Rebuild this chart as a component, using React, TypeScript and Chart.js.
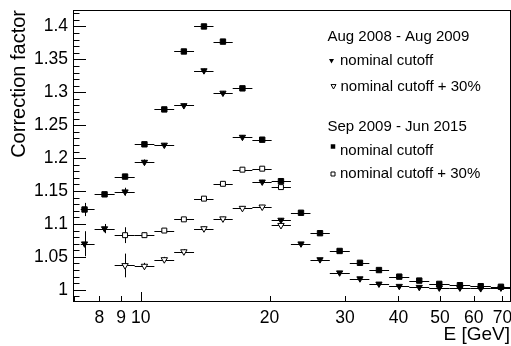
import React, { useEffect, useRef } from 'react';
import { Chart, registerables } from 'chart.js';

Chart.register(...registerables);

const FONT = '"Liberation Sans", Arial, Helvetica, sans-serif';

// Energy bin centres and edges [GeV]
const energy = [7.39, 8.23, 9.19, 10.2, 11.35, 12.61, 14.05, 15.56, 17.28, 19.22, 21.26, 23.68, 26.23, 29.15, 32.52, 36.02, 40.18, 44.74, 49.83, 55.68, 62.27, 69.43];
const binLow = [7.24, 7.8, 8.69, 9.68, 10.76, 11.97, 13.32, 14.79, 16.4, 18.23, 20.22, 22.43, 24.92, 27.65, 30.79, 34.21, 38.04, 42.4, 47.21, 52.67, 58.88, 65.75];
const binHigh = [7.8, 8.69, 9.68, 10.76, 11.97, 13.32, 14.79, 16.4, 18.23, 20.22, 22.43, 24.92, 27.65, 30.79, 34.21, 38.04, 42.4, 47.21, 52.67, 58.88, 65.75, 73.3];

// Aug 2008 - Aug 2009
const aug08Nominal = [1.070, 1.093, 1.149, 1.194, 1.220, 1.280, 1.333, 1.299, 1.232, 1.164, 1.106, 1.070, 1.046, 1.026, 1.017, 1.009, 1.0055, 1.004, 1.003, 1.003, 1.002, 1.003];
const aug08NominalErr = [0.019, 0.007, 0.006, 0.004, 0.003, 0.003, 0.003, 0.003, 0.003, 0.003, 0.003, 0.002, 0.002, 0.002, 0.002, 0.002, 0.002, 0.002, 0.002, 0.002, 0.002, 0.002];
const aug08Plus30 = [null, null, 1.037, 1.036, 1.046, 1.058, 1.093, 1.108, 1.124, 1.126, 1.098, null, null, null, null, null, null, null, null, null, null, null];
const aug08Plus30Err = [null, null, 0.018, 0.005, 0.004, 0.004, 0.003, 0.003, 0.003, 0.003, 0.003, null, null, null, null, null, null, null, null, null, null, null];

// Sep 2009 - Jun 2015
const sep09Nominal = [1.122, 1.145, 1.172, 1.221, 1.274, 1.362, 1.400, 1.377, 1.306, 1.228, 1.165, 1.117, 1.086, 1.059, 1.041, 1.030, 1.020, 1.014, 1.009, 1.007, 1.0055, 1.0046];
const sep09NominalErr = [0.010, 0.004, 0.004, 0.003, 0.003, 0.003, 0.003, 0.003, 0.003, 0.003, 0.002, 0.002, 0.002, 0.002, 0.002, 0.002, 0.002, 0.002, 0.002, 0.002, 0.002, 0.002];
const sep09Plus30 = [null, null, 1.083, 1.083, 1.090, 1.107, 1.1385, 1.161, 1.1825, 1.184, 1.156, null, null, null, null, null, null, null, null, null, null, null];
const sep09Plus30Err = [null, null, 0.012, 0.004, 0.003, 0.003, 0.003, 0.003, 0.003, 0.003, 0.003, null, null, null, null, null, null, null, null, null, null, null];

// Axis ticks
const xTickValues = [8, 9, 10, 20, 30, 40, 50, 60, 70];
const xMinorTicks = [7, 8, 9, 20, 30, 40, 50, 60, 70];
const xMajorTicks = [10];
const yTickValues = [1, 1.05, 1.1, 1.15, 1.2, 1.25, 1.3, 1.35, 1.4];

const X_MIN = 6.945;
const X_MAX = 72.9;
const Y_MIN = 0.983;
const Y_MAX = 1.425;

type Pt = { x: number; y: number; xl: number; xh: number; ye: number };

function buildPoints(vals: (number | null)[], errs: (number | null)[]): Pt[] {
  const out: Pt[] = [];
  vals.forEach((v, i) => {
    if (v == null) return;
    out.push({ x: energy[i], y: v, xl: binLow[i], xh: binHigh[i], ye: errs[i] ?? 0 });
  });
  return out;
}

const errorBarPlugin = {
  id: 'errorBars',
  beforeDatasetsDraw(chart: any) {
    const { ctx, chartArea, scales } = chart;
    const xs = scales.x;
    const ys = scales.y;
    ctx.save();
    ctx.beginPath();
    ctx.rect(chartArea.left, chartArea.top, chartArea.right - chartArea.left, chartArea.bottom - chartArea.top);
    ctx.clip();
    ctx.strokeStyle = '#000';
    ctx.lineWidth = 1;
    chart.data.datasets.forEach((ds: any) => {
      ds.data.forEach((p: Pt) => {
        const px = xs.getPixelForValue(p.x);
        const py = ys.getPixelForValue(p.y);
        const x1 = xs.getPixelForValue(p.xl);
        const x2 = xs.getPixelForValue(p.xh);
        const yy = Math.round(py) + 0.5;
        ctx.beginPath();
        ctx.moveTo(x1, yy);
        ctx.lineTo(x2, yy);
        ctx.stroke();
        if (p.ye > 0) {
          const y1 = ys.getPixelForValue(p.y - p.ye);
          const y2 = ys.getPixelForValue(p.y + p.ye);
          const xx = Math.round(px) + 0.5;
          ctx.beginPath();
          ctx.moveTo(xx, y1);
          ctx.lineTo(xx, y2);
          ctx.stroke();
        }
      });
    });
    ctx.restore();
  },
};

const framePlugin = {
  id: 'rootFrame',
  afterDatasetsDraw(chart: any) {
    const { ctx, chartArea, scales } = chart;
    const { left, right, top, bottom } = chartArea;
    const xs = scales.x;
    const ys = scales.y;
    ctx.save();
    ctx.strokeStyle = '#000';
    ctx.lineWidth = 1;
    ctx.strokeRect(Math.round(left) + 0.5, Math.round(top) + 0.5, Math.round(right - left), Math.round(bottom - top));
    ctx.beginPath();
    for (let k = 99; k <= 142; k++) {
      const v = k / 100;
      if (v < Y_MIN || v > Y_MAX) continue;
      const major = k % 5 === 0;
      const py = Math.round(ys.getPixelForValue(v)) + 0.5;
      ctx.moveTo(left, py);
      ctx.lineTo(left + (major ? 13 : 6.5), py);
    }
    xMinorTicks.forEach((v) => {
      const px = Math.round(xs.getPixelForValue(v)) + 0.5;
      ctx.moveTo(px, bottom);
      ctx.lineTo(px, bottom - 5);
    });
    xMajorTicks.forEach((v) => {
      const px = Math.round(xs.getPixelForValue(v)) + 0.5;
      ctx.moveTo(px, bottom);
      ctx.lineTo(px, bottom - 9);
    });
    ctx.stroke();
    ctx.restore();
  },
};

function marker(ctx: CanvasRenderingContext2D, kind: string, x: number, y: number, s: number) {
  ctx.beginPath();
  if (kind === 'sq' || kind === 'osq') {
    ctx.rect(x - s / 2, y - s / 2, s, s);
  } else {
    ctx.moveTo(x - s / 2, y - s / 2.6);
    ctx.lineTo(x + s / 2, y - s / 2.6);
    ctx.lineTo(x, y + s / 2);
    ctx.closePath();
  }
  if (kind === 'sq' || kind === 'tri') {
    ctx.fillStyle = '#000';
    ctx.fill();
  } else {
    ctx.fillStyle = '#fff';
    ctx.fill();
    ctx.strokeStyle = '#000';
    ctx.lineWidth = 1;
    ctx.stroke();
  }
}

const legendPlugin = {
  id: 'rootLegend',
  afterDraw(chart: any) {
    const ctx = chart.ctx as CanvasRenderingContext2D;
    ctx.save();
    ctx.font = `15px ${FONT}`;
    ctx.fillStyle = '#000';
    ctx.textBaseline = 'alphabetic';
    ctx.textAlign = 'left';
    ctx.fillText('Aug 2008 - Aug 2009', 327.5, 41);
    marker(ctx, 'tri', 331.5, 61, 5);
    ctx.fillStyle = '#000';
    ctx.fillText('nominal cutoff', 340, 65);
    marker(ctx, 'otri', 333.5, 86.5, 5);
    ctx.fillStyle = '#000';
    ctx.fillText('nominal cutoff + 30%', 340.5, 91);
    ctx.fillText('Sep 2009 - Jun 2015', 327.5, 131);
    marker(ctx, 'sq', 333, 146.5, 4.5);
    ctx.fillStyle = '#000';
    ctx.fillText('nominal cutoff', 340, 155);
    marker(ctx, 'osq', 333, 174, 4);
    ctx.fillStyle = '#000';
    ctx.fillText('nominal cutoff + 30%', 340, 178);
    ctx.restore();
  },
};

export default function App() {
  const canvasRef = useRef<HTMLCanvasElement | null>(null);

  useEffect(() => {
    const canvas = canvasRef.current;
    if (!canvas) return;
    const chart = new Chart(canvas, {
      type: 'scatter',
      data: {
        datasets: [
          {
            label: 'Sep 2009 - Jun 2015, nominal cutoff + 30%',
            data: buildPoints(sep09Plus30, sep09Plus30Err) as any,
            pointStyle: 'rect',
            pointRadius: 3.5,
            backgroundColor: '#fff',
            borderColor: '#000',
            borderWidth: 1,
          },
          {
            label: 'Aug 2008 - Aug 2009, nominal cutoff + 30%',
            data: buildPoints(aug08Plus30, aug08Plus30Err) as any,
            pointStyle: 'triangle',
            rotation: 180,
            pointRadius: 3.7,
            backgroundColor: '#fff',
            borderColor: '#000',
            borderWidth: 1,
          },
          {
            label: 'Aug 2008 - Aug 2009, nominal cutoff',
            data: buildPoints(aug08Nominal, aug08NominalErr) as any,
            pointStyle: 'triangle',
            rotation: 180,
            pointRadius: 3.6,
            backgroundColor: '#000',
            borderColor: '#000',
            borderWidth: 1,
          },
          {
            label: 'Sep 2009 - Jun 2015, nominal cutoff',
            data: buildPoints(sep09Nominal, sep09NominalErr) as any,
            pointStyle: 'rect',
            pointRadius: 3.8,
            backgroundColor: '#000',
            borderColor: '#000',
            borderWidth: 1,
          },
        ],
      },
      options: {
        responsive: false,
        animation: false,
        events: [],
        layout: { autoPadding: false, padding: { left: 0, right: 1, top: 10, bottom: 0 } },
        plugins: {
          legend: { display: false },
          tooltip: { enabled: false },
        },
        scales: {
          x: {
            type: 'logarithmic',
            position: 'bottom',
            min: X_MIN,
            max: X_MAX,
            bounds: 'data',
            grid: { display: false, drawTicks: false },
            border: { display: false },
            ticks: {
              color: '#000',
              font: { family: FONT, size: 17.5 },
              padding: 7,
              maxRotation: 0,
              autoSkip: false,
              callback: (v: any) => String(v),
            },
            afterBuildTicks: (scale: any) => {
              scale.ticks = xTickValues.map((v) => ({ value: v }));
            },
            afterFit: (scale: any) => {
              scale.height = 45;
              scale.paddingLeft = 0;
              scale.paddingRight = 0;
            },
            title: {
              display: true,
              text: 'E [GeV]',
              align: 'end',
              color: '#000',
              font: { family: FONT, size: 19 },
              padding: { top: 0, bottom: 0 },
            },
          },
          y: {
            type: 'linear',
            position: 'left',
            min: Y_MIN,
            max: Y_MAX,
            bounds: 'data',
            grid: { display: false, drawTicks: false },
            border: { display: false },
            ticks: {
              color: '#000',
              font: { family: FONT, size: 17.5 },
              padding: 5,
              autoSkip: false,
              callback: (v: any) => String(Math.round(Number(v) * 100) / 100),
            },
            afterBuildTicks: (scale: any) => {
              scale.ticks = yTickValues.map((v) => ({ value: v }));
            },
            afterFit: (scale: any) => {
              scale.width = 73;
              scale.paddingTop = 0;
              scale.paddingBottom = 0;
            },
            title: {
              display: true,
              text: 'Correction factor',
              align: 'end',
              color: '#000',
              font: { family: FONT, size: 20 },
              padding: { top: 7, bottom: 0 },
            },
          },
        },
      },
      plugins: [errorBarPlugin, framePlugin, legendPlugin],
    });
    return () => chart.destroy();
  }, []);

  return (
    <div style={{ position: 'fixed', left: 0, top: 0, width: 511, height: 346, background: '#fff' }}>
      <canvas ref={canvasRef} width={511} height={346} style={{ display: 'block' }} />
    </div>
  );
}
